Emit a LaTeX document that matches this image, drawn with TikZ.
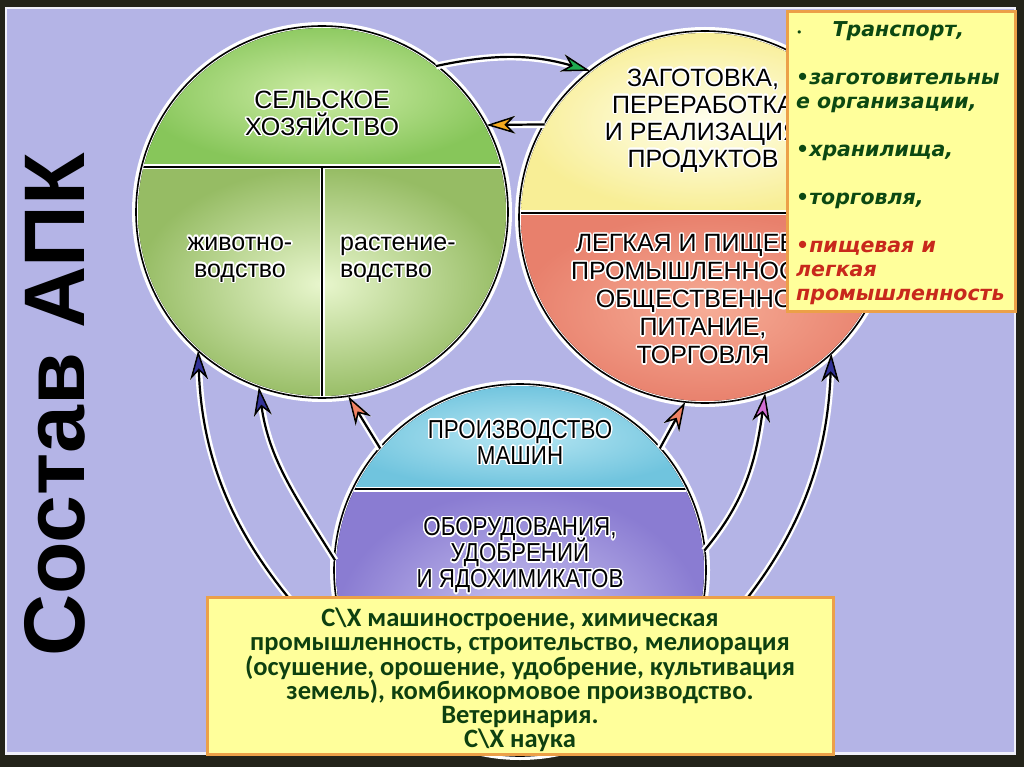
\documentclass[tikz,border=0pt]{standalone}
\usepackage{fontspec}
\setmainfont{Liberation Sans}
\newfontfamily\condfont{Liberation Sans}[FakeStretch=0.86]
\newfontfamily\listfont{DejaVu Sans}
\newfontfamily\notefont{Carlito}
\usepackage{contour}
\contourlength{1.4pt}
\contournumber{20}
\usetikzlibrary{arrows.meta,positioning}

\definecolor{frameDark}{RGB}{35,35,25}
\definecolor{lavender}{RGB}{180,180,230}
\definecolor{greenTop}{RGB}{135,198,90}
\definecolor{greenTopHi}{RGB}{205,236,165}
\definecolor{greenLow}{RGB}{150,188,100}
\definecolor{greenLowHi}{RGB}{232,246,205}
\definecolor{yellowTop}{RGB}{248,238,150}
\definecolor{yellowTopHi}{RGB}{255,255,238}
\definecolor{redLow}{RGB}{232,128,108}
\definecolor{redLowHi}{RGB}{246,172,150}
\definecolor{blueTop}{RGB}{112,196,222}
\definecolor{blueTopHi}{RGB}{182,230,242}
\definecolor{purpleLow}{RGB}{138,124,210}
\definecolor{purpleLowHi}{RGB}{205,200,242}
\definecolor{boxFill}{RGB}{255,255,155}
\definecolor{boxEdge}{RGB}{236,160,72}
\definecolor{noteGreen}{RGB}{14,64,16}
\definecolor{listGreen}{RGB}{12,72,18}
\definecolor{listRed}{RGB}{200,40,28}
\definecolor{tipGreen}{RGB}{30,170,80}
\definecolor{tipOrange}{RGB}{245,170,30}
\definecolor{tipNavy}{RGB}{50,50,150}
\definecolor{tipSalmon}{RGB}{240,130,100}
\definecolor{tipPink}{RGB}{210,110,210}

\newcommand{\glow}[1]{\contour{white}{#1}}
\newcommand{\tightlines}{\lineskiplimit=-40pt\lineskip=0pt}

\begin{document}
\begin{tikzpicture}[
            x=1pt, y=-1pt,
            ring/.style={circle, minimum size=370pt, inner sep=0pt},
            lbl/.style={font=\fontsize{25}{27}\selectfont\tightlines, align=center, inner sep=0pt},
            lblc/.style={lbl, font=\condfont\fontsize{26}{26}\selectfont\tightlines},
            link/.style={line width=2.2pt, preaction={draw=white, line width=7pt}},
            arrowin/.style={-{Stealth[length=29pt, width=18pt, inset=9pt, line width=0pt 0.7, fill=#1]}, shorten >=1pt},
            notebox/.style={draw=boxEdge, line width=3pt, fill=boxFill, inner sep=0pt}
        ]
        % frame and background
        \fill[frameDark] (0,0) rectangle (1024,767);
        \fill[white!80!lavender] (5,7) rectangle (1016,755);
        \fill[lavender] (7,9) rectangle (1014,752);

        % the three circles
        \node[ring] (agro) at (322,212) {};
        \node[ring] (proc) at (705,217) {};
        \node[ring] (mach) at (520,570) {};
        \foreach \ringname in {agro, proc, mach}
            \fill[white] (\ringname.center) circle (190);

        % agriculture
        \begin{scope}
            \clip (agro.center) circle (184);
            \fill[inner color=greenTopHi, outer color=greenTop] (137,20) rectangle (507,166);
            \fill[inner color=greenLowHi, outer color=greenLow] (137,168) rectangle (507,400);
            \draw[white, line width=5pt] (137,167) -- (507,167) (322,167) -- (322,400);
            \draw[line width=1.3pt] (137,167) -- (507,167) (322,167) -- (322,400);
        \end{scope}
        % processing
        \begin{scope}
            \clip (proc.center) circle (184);
            \fill[inner color=yellowTopHi, outer color=yellowTop] (520,30) rectangle (890,212);
            \fill[inner color=redLowHi, outer color=redLow] (520,214) rectangle (890,404);
            \draw[white, line width=5pt] (520,213) -- (890,213);
            \draw[line width=1.3pt] (520,213) -- (890,213);
        \end{scope}
        % machinery
        \begin{scope}
            \clip (mach.center) circle (184);
            \fill[inner color=blueTopHi, outer color=blueTop] (335,385) rectangle (705,488);
            \fill[inner color=purpleLowHi, outer color=purpleLow] (335,490) rectangle (705,760);
            \draw[white, line width=5pt] (335,489) -- (705,489);
            \draw[line width=1.3pt] (335,489) -- (705,489);
        \end{scope}
        \foreach \ringname in {agro, proc, mach}
            \draw[line width=1.6pt] (\ringname.center) circle (186);

        % circle labels
        \node[lbl] (selhoz) at (322,114) {\glow{СЕЛЬСКОЕ}\\\glow{ХОЗЯЙСТВО}};
        \node[lbl] (zhiv) at (240,260) {\glow{животно-}\\\glow{водство}};
        \node[lbl, align=left, anchor=west] (rast) at (340,260) {\glow{растение-}\\\glow{водство}};
        \node[lbl] (zagot) at (703,121) {\glow{ЗАГОТОВКА,}\\\glow{ПЕРЕРАБОТКА}\\\glow{И РЕАЛИЗАЦИЯ}\\\glow{ПРОДУКТОВ}};
        \node[lbl, font=\fontsize{25}{28}\selectfont\tightlines] (pishch) at (703,300) {\glow{ЛЕГКАЯ И ПИЩЕВАЯ}\\\glow{ПРОМЫШЛЕННОСТЬ,}\\\glow{ОБЩЕСТВЕННОЕ}\\\glow{ПИТАНИЕ,}\\\glow{ТОРГОВЛЯ}};
        \node[lblc] (mashin) at (520,443) {\glow{ПРОИЗВОДСТВО}\\\glow{МАШИН}};
        \node[lblc] (udobr) at (520,556) {\glow{ОБОРУДОВАНИЯ,}\\\glow{УДОБРЕНИЙ}\\\glow{И ЯДОХИМИКАТОВ}};

        % connectors
        \draw[link, arrowin=tipGreen] (agro.52) to[bend left=14] (proc.128);
        \draw[link, arrowin=tipOrange] (proc.150) -- (agro.28);
        \draw[link, arrowin=tipNavy] (mach.-122) to[out=140, in=-88] (agro.-132);
        \draw[link, arrowin=tipNavy] (mach.177) to[out=122, in=-82] (agro.-110);
        \draw[link, arrowin=tipSalmon] (mach.139) -- (agro.-82);
        \draw[link, arrowin=tipSalmon] (mach.41) -- (proc.-96);
        \draw[link, arrowin=tipPink] (mach.6) to[out=50, in=-98] (proc.-71);
        \draw[link, arrowin=tipNavy] (mach.-58) to[out=40, in=-92] (proc.-47);

        % title
        \node[rotate=90, font=\bfseries\fontsize{86}{86}\selectfont] (title) at (55,405) {Состав АПК};

        % list box
        \node[notebox, minimum width=228pt, minimum height=300pt, anchor=north west] (listbox) at (786,10) {};
        \node[anchor=north west, align=left, inner sep=0pt, text=listGreen,
              font=\listfont\bfseries\itshape\fontsize{20.5}{24}\selectfont\tightlines] (items) at (796,21)
            {{\normalfont\listfont\fontsize{11}{24}\selectfont •}\hspace{30pt}Транспорт,\\[24pt]
             •заготовительны\\
             е организации,\\[24pt]
             •хранилища,\\[24pt]
             •торговля,\\[24pt]
             \textcolor{listRed}{•пищевая и}\\
             \textcolor{listRed}{легкая}\\
             \textcolor{listRed}{промышленность}};

        % note box
        \node[notebox, minimum width=626pt, minimum height=157pt] (notes) at (520,676) {};
        \node[align=center, inner sep=0pt, text=noteGreen,
              font=\notefont\bfseries\fontsize{26.5}{24.2}\selectfont\tightlines] (noteText) at (520,680)
            {С\textbackslash Х машиностроение, химическая\\
             промышленность, строительство, мелиорация\\
             (осушение, орошение, удобрение, культивация\\
             земель), комбикормовое производство.\\
             Ветеринария.\\
             С\textbackslash Х наука};
        \end{tikzpicture}
\end{document}
